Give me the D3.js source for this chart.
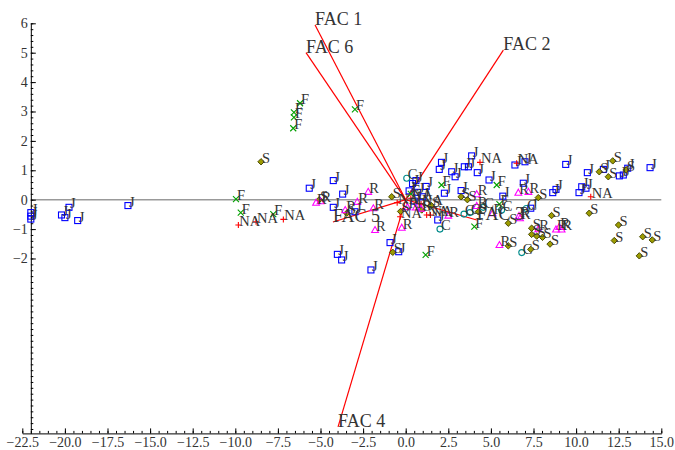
<!DOCTYPE html>
<html><head><meta charset="utf-8">
<script src="https://cdn.jsdelivr.net/npm/d3@7"></script>
<style>body{margin:0;background:#fff}svg{display:block}</style>
</head><body><svg id="c" width="675" height="450"></svg>
<script>
// ---- data ----
const xTickValues = [-22.5,-20,-17.5,-15,-12.5,-10,-7.5,-5,-2.5,0,2.5,5,7.5,10,12.5,15];
const xTickLabels = ["\u221222.5","\u221220.0","\u221217.5","\u221215.0","\u221212.5","\u221210.0","\u22127.5","\u22125.0","\u22122.5","0.0","2.5","5.0","7.5","10.0","12.5","15.0"];
const yTickValues = [-2,-1,0,1,2,3,4,5,6];
const yTickLabels = ["\u22122","\u22121","0","1","2","3","4","5","6"];

const facNames = ["FAC 1","FAC 2","FAC 3","FAC 4","FAC 5","FAC 6"];
const facX = [-5.32, 5.73, 4.17, -3.97, -4.27, -5.85];
const facY = [5.94, 5.09, -0.69, -7.73, -0.76, 5.0];

const pointsJ = [[-22.0,-0.44],[-22.0,-0.56],[-22.0,-0.66],[-20.2,-0.52],[-20.0,-0.61],[-19.76,-0.26],[-19.25,-0.71],[-16.3,-0.2],
 [-5.66,0.39],[-4.25,0.65],[-3.7,0.19],[-4.25,-0.26],[-2.98,-0.41],
 [-4.01,-1.86],[-3.76,-2.05],[-2.04,-2.39],[-0.92,-1.46],[-0.41,-1.77],
 [2.1,1.27],[1.97,1.03],[2.7,0.95],[2.9,0.78],[3.44,1.12],[3.68,1.12],[3.87,1.49],[4.2,0.92],[4.89,0.67],[6.41,1.18],[6.9,0.56],[2.27,0.22],[5.7,0.12],[3.25,0.31],[1.88,-0.69],
 [7.0,1.29],[9.39,1.2],[10.66,0.92],[11.6,1.03],[12.54,0.81],[12.77,0.84],[13.03,1.07],[14.34,1.09],[8.63,0.24],[8.82,0.35],[10.17,0.24],[10.33,0.44],[10.58,0.39],[7.34,-0.29],
 [0.4,0.55],[0.6,0.65],[0.7,0.25],[1.2,0.45],[0.5,-0.05],[0.2,0.3],[1.0,0.1]];
const pointsF = [[-6.2,3.28],[-6.56,2.97],[-6.56,2.8],[-6.6,2.43],[-2.98,3.07],[-9.96,0.02],[-9.68,-0.44],[-7.77,-0.49],[1.17,-1.88],[2.1,0.5],[5.34,0.5],[5.5,-0.15],[4.03,-0.92],[0.3,0.2]];
const pointsS = [[-8.49,1.29],[-5.07,0.0],[-3.46,-0.46],[-0.82,0.1],[-0.76,-1.79],[0.94,-0.35],[3.25,0.1],[3.62,0.0],[4.26,-0.41],[6.02,-0.8],[7.39,-0.97],[6.02,-1.57],[7.78,0.07],
 [12.15,1.32],[11.36,0.95],[11.89,0.78],[12.93,1.01],[10.77,-0.46],[8.56,-0.54],[7.39,-1.18],[7.69,-1.24],[8.03,-1.28],[8.47,-1.51],[7.34,-1.69],[12.49,-0.86],[12.24,-1.39],[13.91,-1.26],[14.47,-1.37],[13.71,-1.91],[-0.3,-0.4],[1.5,-0.2]];
const pointsNA = [[-9.82,-0.86],[-8.78,-0.75],[-7.18,-0.67],[-0.33,-0.58],[4.36,1.27],[6.51,1.24],[10.86,0.1],[1.23,-0.52],[1.45,-0.52],[0.3,0.05],[-0.5,-0.1],[0.9,-0.15]];
const pointsR = [[-5.26,-0.1],[-5.0,-0.05],[-3.55,-0.35],[-2.84,-0.07],[-2.2,0.27],[-1.9,-0.29],[-1.8,-1.03],[-0.23,-0.95],[6.61,0.24],[4.17,0.19],[4.17,-0.21],[5.1,-0.46],[2.5,-0.54],
 [0.1,-0.25],[0.6,-0.26],[0.9,-0.3],[6.71,-0.63],[6.65,-0.55],[7.2,0.27],[5.5,-1.54],[7.78,-1.0],[8.82,-1.01],[9.01,-0.92],[9.15,-1.01]];
const pointsC = [[0.06,0.73],[3.77,-0.44],[3.42,-0.49],[4.55,-0.26],[2.01,-1.0],[5.63,-0.35],[7.08,-0.3],[6.81,-1.8]];

const groups = [
  {label:"J", pts:pointsJ, shape:"square", color:"#0000ff"},
  {label:"F", pts:pointsF, shape:"cross", color:"#00a000"},
  {label:"S", pts:pointsS, shape:"diamond", color:"#8a8a00"},
  {label:"NA", pts:pointsNA, shape:"plus", color:"#ff0000"},
  {label:"R", pts:pointsR, shape:"triangle", color:"#ff00ff"},
  {label:"C", pts:pointsC, shape:"circle", color:"#008b8b"}
];

// ---- chart ----
const svg = d3.select("#c");
const font = "'Liberation Serif','Times New Roman',serif";
const x = d3.scaleLinear().domain([-22.5, 15]).range([22.3, 661.3]);
const y = d3.scaleLinear().domain([-7.95, 6]).range([433.4, 23.3]);
const yAxisX = x(-22);

// zero line
svg.append("line").attr("x1", yAxisX).attr("x2", x(15)).attr("y1", y(0)).attr("y2", y(0))
  .attr("stroke", "#999").attr("stroke-width", 1.4);

// x axis
const xMinor = d3.range(-22.5, 15.01, 0.5);
svg.append("g").attr("transform", `translate(0,${y(-7.95)})`)
  .call(d3.axisBottom(x).tickValues(xMinor).tickSize(-2.5).tickSizeOuter(0).tickFormat(""))
  .call(g => g.select(".domain").remove());
const gx = svg.append("g").attr("transform", `translate(0,${y(-7.95)})`)
  .call(d3.axisBottom(x).tickValues(xTickValues).tickSize(-5).tickSizeOuter(0).tickPadding(4)
    .tickFormat((d,i) => xTickLabels[i]));
gx.selectAll("text").attr("font-family", font).attr("font-size", 14).attr("fill", "#333");

// y axis
const yMinor = d3.range(-7.8, 6.01, 0.2);
svg.append("g").attr("transform", `translate(${yAxisX},0)`)
  .call(d3.axisLeft(y).tickValues(yMinor).tickSize(-2.5).tickSizeOuter(0).tickFormat(""))
  .call(g => g.select(".domain").remove());
const gy = svg.append("g").attr("transform", `translate(${yAxisX},0)`)
  .call(d3.axisLeft(y).tickValues(yTickValues).tickSize(-5).tickSizeOuter(0).tickPadding(3)
    .tickFormat((d,i) => yTickLabels[i]));
gy.selectAll("text").attr("font-family", font).attr("font-size", 14).attr("fill", "#333");
svg.selectAll(".domain").attr("stroke", "#000");
svg.selectAll(".tick line").attr("stroke", "#000");

// vectors
const vec = svg.append("g");
facNames.forEach((n, i) => {
  vec.append("line").attr("x1", x(0)).attr("y1", y(0)).attr("x2", x(facX[i])).attr("y2", y(facY[i]))
    .attr("stroke", "#ff0000").attr("stroke-width", 1.2);
});

// markers
const mk = svg.append("g");
function drawMarker(g, shape, cx, cy, color) {
  const s = 3;
  if (shape === "square") {
    g.append("rect").attr("x", cx - s).attr("y", cy - s).attr("width", 2*s).attr("height", 2*s)
      .attr("fill", "none").attr("stroke", color).attr("stroke-width", 1.1);
  } else if (shape === "cross") {
    g.append("path").attr("d", `M${cx-s},${cy-s}L${cx+s},${cy+s}M${cx-s},${cy+s}L${cx+s},${cy-s}`)
      .attr("stroke", color).attr("stroke-width", 1.1);
  } else if (shape === "plus") {
    g.append("path").attr("d", `M${cx-s},${cy}L${cx+s},${cy}M${cx},${cy-s}L${cx},${cy+s}`)
      .attr("stroke", color).attr("stroke-width", 1.1);
  } else if (shape === "diamond") {
    g.append("path").attr("d", `M${cx},${cy-3.2}L${cx+3.2},${cy}L${cx},${cy+3.2}L${cx-3.2},${cy}Z`)
      .attr("fill", "#9c9c00").attr("stroke", "#4a4a00").attr("stroke-width", 1);
  } else if (shape === "triangle") {
    g.append("path").attr("d", `M${cx},${cy-3.4}L${cx+3.4},${cy+2.6}L${cx-3.4},${cy+2.6}Z`)
      .attr("fill", "none").attr("stroke", color).attr("stroke-width", 1.1);
  } else if (shape === "circle") {
    g.append("circle").attr("cx", cx).attr("cy", cy).attr("r", 3)
      .attr("fill", "none").attr("stroke", color).attr("stroke-width", 1.1);
  }
}
groups.forEach(gr => gr.pts.forEach(p => drawMarker(mk, gr.shape, x(p[0]), y(p[1]), gr.color)));

// point labels
const lb = svg.append("g").attr("font-family", font).attr("font-size", 14.5).attr("fill", "#333");
groups.forEach(gr => gr.pts.forEach(p => {
  lb.append("text").attr("x", x(p[0]) + 1).attr("y", y(p[1]) + 1).text(gr.label);
}));

// vector labels
const vl = svg.append("g").attr("font-family", font).attr("font-size", 18).attr("fill", "#333");
facNames.forEach((n, i) => {
  vl.append("text").attr("x", x(facX[i])).attr("y", y(facY[i])).text(n);
});
</script></body></html>
